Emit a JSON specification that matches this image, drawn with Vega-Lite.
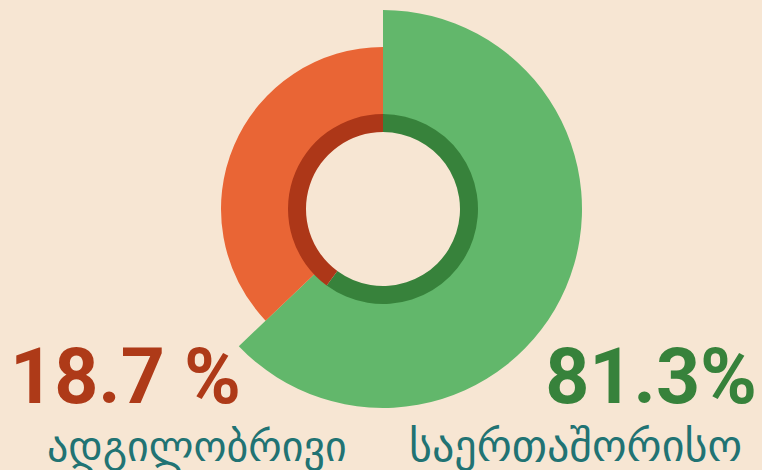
{
  "$schema": "https://vega.github.io/schema/vega-lite/v6.json",
  "width": 758,
  "height": 418,
  "autosize": "none",
  "padding": {"left": 4, "top": 0, "right": 0, "bottom": 52},
  "background": "#f7e6d3",
  "config": {"view": {"stroke": null}},
  "data": {
    "values": [
      {"category": "საერთაშორისო", "label": "81.3%", "share": 62.9, "ring_share": 60.1},
      {"category": "ადგილობრივი", "label": "18.7 %", "share": 37.1, "ring_share": 39.9}
    ]
  },
  "layer": [
    {
      "transform": [
        {"stack": "share", "groupby": [], "sort": [{"field": "category", "order": "descending"}], "as": ["s0", "s1"]},
        {"filter": "datum.category === 'საერთაშორისო'"}
      ],
      "mark": {"type": "arc", "radius": 199, "radius2": 94, "color": "#62b76b"},
      "encoding": {
        "theta": {"field": "s0", "type": "quantitative", "stack": null, "scale": {"domain": [0, 100]}},
        "theta2": {"field": "s1"}
      }
    },
    {
      "transform": [
        {"stack": "share", "groupby": [], "sort": [{"field": "category", "order": "descending"}], "as": ["s0", "s1"]},
        {"filter": "datum.category === 'ადგილობრივი'"}
      ],
      "mark": {"type": "arc", "radius": 162, "radius2": 94, "color": "#e96535"},
      "encoding": {
        "theta": {"field": "s0", "type": "quantitative", "stack": null, "scale": {"domain": [0, 100]}},
        "theta2": {"field": "s1"}
      }
    },
    {
      "transform": [
        {"stack": "ring_share", "groupby": [], "sort": [{"field": "category", "order": "descending"}], "as": ["r0", "r1"]}
      ],
      "mark": {"type": "arc", "radius": 95, "radius2": 77},
      "encoding": {
        "theta": {"field": "r0", "type": "quantitative", "stack": null, "scale": {"domain": [0, 100]}},
        "theta2": {"field": "r1"},
        "color": {
          "field": "category",
          "type": "nominal",
          "scale": {"domain": ["საერთაშორისო", "ადგილობრივი"], "range": ["#37823b", "#ad3718"]},
          "legend": null
        }
      }
    },
    {
      "transform": [{"filter": "datum.category === 'ადგილობრივი'"}],
      "mark": {"type": "text", "align": "left", "baseline": "alphabetic", "font": "Roboto", "fontWeight": "bold", "fontSize": 77, "color": "#ae3a18", "dy": 194, "dx": -2},
      "encoding": {
        "x": {"field": "category", "type": "nominal", "axis": null, "scale": {"type": "point", "domain": ["ადგილობრივი", "საერთაშორისო"], "padding": 0.0108}},
        "text": {"field": "label"}
      }
    },
    {
      "transform": [{"filter": "datum.category === 'საერთაშორისო'"}],
      "mark": {"type": "text", "align": "right", "baseline": "alphabetic", "font": "Roboto", "fontWeight": "bold", "fontSize": 77, "color": "#37823b", "dy": 194, "dx": 3},
      "encoding": {
        "x": {"field": "category", "type": "nominal", "axis": null},
        "text": {"field": "label"}
      }
    },
    {
      "transform": [{"filter": "datum.category === 'ადგილობრივი'"}],
      "mark": {"type": "text", "align": "left", "baseline": "alphabetic", "font": "DejaVu Sans", "fontSize": 42, "color": "#217373", "dy": 252, "dx": 35},
      "encoding": {
        "x": {"field": "category", "type": "nominal", "axis": null},
        "text": {"field": "category"}
      }
    },
    {
      "transform": [{"filter": "datum.category === 'საერთაშორისო'"}],
      "mark": {"type": "text", "align": "right", "baseline": "alphabetic", "font": "DejaVu Sans", "fontSize": 44, "color": "#217373", "dy": 252, "dx": -12},
      "encoding": {
        "x": {"field": "category", "type": "nominal", "axis": null},
        "text": {"field": "category"}
      }
    }
  ]
}
